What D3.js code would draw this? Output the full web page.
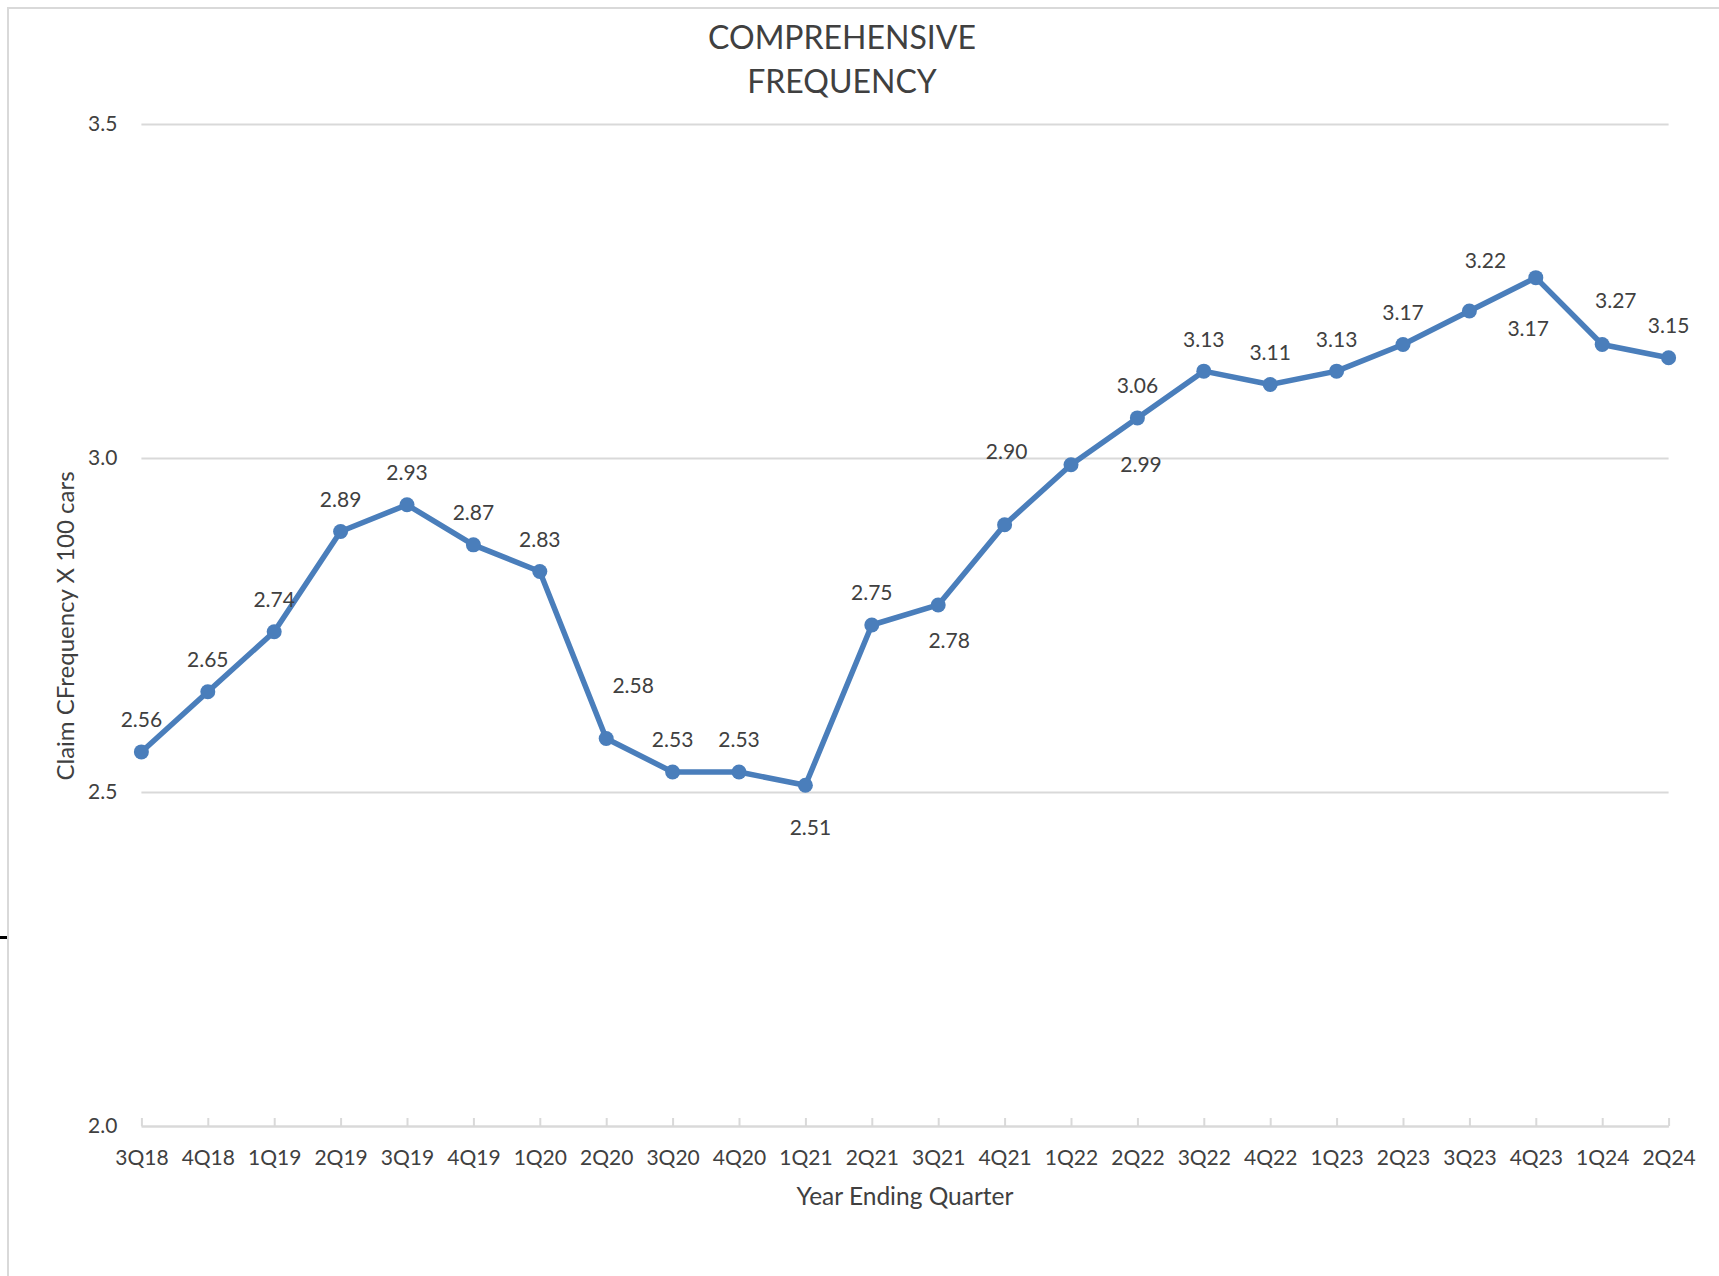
<!DOCTYPE html>
<html>
<head>
<meta charset="utf-8">
<script src="https://cdn.jsdelivr.net/npm/d3@7"></script>
<style>
    body { margin: 0; background: #ffffff; }
    text { font-family: 'Lato'; fill: #404040; }
</style>
</head>
<body>
<div id="chart"></div>
<script>
// data
let quarters = ["3Q18", "4Q18", "1Q19", "2Q19", "3Q19", "4Q19", "1Q20", "2Q20", "3Q20", "4Q20", "1Q21", "2Q21",
                "3Q21", "4Q21", "1Q22", "2Q22", "3Q22", "4Q22", "1Q23", "2Q23", "3Q23", "4Q23", "1Q24", "2Q24"];
let frequency = [2.56, 2.65, 2.74, 2.89, 2.93, 2.87, 2.83, 2.58, 2.53, 2.53, 2.51, 2.75,
                 2.78, 2.90, 2.99, 3.06, 3.13, 3.11, 3.13, 3.17, 3.22, 3.27, 3.17, 3.15];
let yTicks = [2.0, 2.5, 3.0, 3.5];

// hand placed data labels (pixel offsets from the point), default is above
let labelShift = {"2Q20": [27, -53], "1Q21": [5, 42], "3Q21": [11, 36], "4Q21": [2, -73], "1Q22": [70, 0],
                  "3Q23": [16, -50], "4Q23": [80, 23], "1Q24": [-74, -16]};

var width = 1719;
var height = 1276;
let blue = "#4a7ebb";
let grid = "#d9d9d9";

let svg = d3.select("#chart").append("svg").attr("width", width).attr("height", height);

// chart frame
svg.append("path").attr("d", "M8," + height + "V8H" + width).attr("fill", "none").attr("stroke", grid).attr("stroke-width", 2);
svg.append("line").attr("x1", 0).attr("x2", 7).attr("y1", 937.5).attr("y2", 937.5).attr("stroke", "#000").attr("stroke-width", 3);

let x = d3.scalePoint().domain(quarters).range([141.4, 1668.6]);
let y = d3.scaleLinear().domain([2.0, 3.5]).range([1126, 124]);

// gridlines + y labels
let yAxis = svg.append("g").attr("transform", "translate(141.4,0)")
    .call(d3.axisLeft(y).tickValues(yTicks).tickFormat(d3.format(".1f")).tickSize(-(1668.6 - 141.4)).tickPadding(24));
yAxis.select(".domain").remove();
yAxis.selectAll("line").attr("stroke", grid).attr("stroke-width", 2);
yAxis.selectAll("text").attr("font-size", 21).attr("font-family", "Lato").attr("fill", "#404040");

// category axis, ticks point up into the plot
let xAxis = svg.append("g").attr("transform", "translate(0,1126)")
    .call(d3.axisBottom(x).tickSize(-8).tickSizeOuter(0).tickPadding(24));
xAxis.select(".domain").attr("stroke", grid).attr("stroke-width", 2);
xAxis.selectAll("line").attr("stroke", grid).attr("stroke-width", 2);
xAxis.selectAll("text").attr("font-size", 21).attr("font-family", "Lato").attr("fill", "#404040");

// the line
let line = d3.line().x((d, i) => x(quarters[i])).y(d => y(d));
svg.append("path").datum(frequency).attr("d", line).attr("fill", "none").attr("stroke", blue)
    .attr("stroke-width", 5.5).attr("stroke-linejoin", "round");

svg.selectAll(".dot").data(frequency).enter().append("circle").attr("class", "dot")
    .attr("cx", (d, i) => x(quarters[i])).attr("cy", d => y(d)).attr("r", 7.5).attr("fill", blue);

svg.selectAll(".lbl").data(frequency).enter().append("text").attr("class", "lbl")
    .attr("x", (d, i) => x(quarters[i]) + (labelShift[quarters[i]] || [0, -32])[0])
    .attr("y", (d, i) => y(d) + (labelShift[quarters[i]] || [0, -32])[1])
    .attr("dy", "0.35em").attr("text-anchor", "middle").attr("font-size", 21)
    .text(d => d.toFixed(2));

// titles
svg.append("text").attr("x", 842).attr("y", 49).attr("text-anchor", "middle").attr("font-size", 32).text("COMPREHENSIVE");
svg.append("text").attr("x", 842).attr("y", 93).attr("text-anchor", "middle").attr("font-size", 32).text("FREQUENCY");
svg.append("text").attr("x", 905).attr("y", 1205).attr("text-anchor", "middle").attr("font-size", 24.5).text("Year Ending Quarter");
svg.append("text").attr("transform", "translate(74,626) rotate(-90)").attr("text-anchor", "middle").attr("font-size", 24)
    .text("Claim CFrequency X 100 cars");
</script>
</body>
</html>
